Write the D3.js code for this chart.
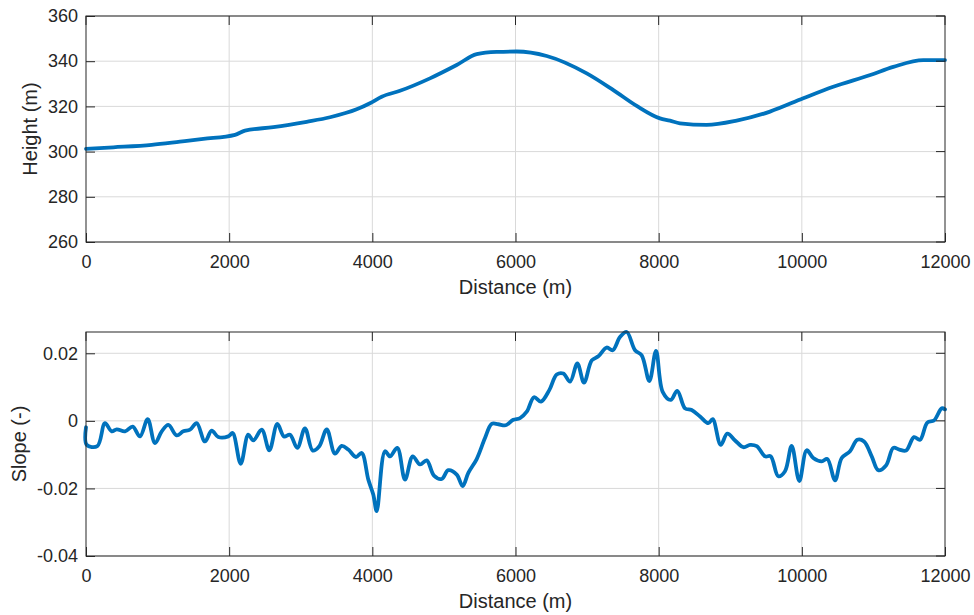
<!DOCTYPE html>
<html>
<head>
<meta charset="utf-8">
<script src="https://cdn.jsdelivr.net/npm/d3@7"></script>
<style>
  html, body { margin: 0; padding: 0; background: #fff; }
  svg { display: block; }
  text { font-family: "Liberation Sans", Arial, Helvetica, sans-serif; fill: #262626; }
</style>
</head>
<body>
<svg id="chart" width="974" height="615"></svg>
<script>
// ---- Data ----
const heightDist = [0, 382, 918, 1313, 1639, 2082, 2221, 2617, 3083, 3409, 3781, 3967, 4131, 4386, 4805, 5178, 5458, 5737, 6017, 6436, 6995, 7367, 7693, 8018, 8158, 8297, 8670, 9089, 9555, 10020, 10439, 10956, 11278, 11697, 12000];
const heightVals = [301.2, 301.9, 303.0, 304.4, 305.6, 307.4, 309.3, 310.8, 313.2, 315.2, 318.7, 321.4, 324.3, 326.9, 332.4, 338.3, 343.1, 344.1, 344.3, 342.3, 334.6, 327.2, 320.2, 314.7, 313.7, 312.5, 311.8, 313.7, 317.7, 323.6, 328.7, 333.9, 337.5, 340.5, 340.5];

const slopeDist = [0, 10, 158, 265, 359, 429, 545, 652, 754, 862, 964, 1058, 1150, 1267, 1359, 1453, 1546, 1662, 1756, 1848, 1988, 2049, 2161, 2267, 2337, 2455, 2561, 2673, 2766, 2850, 2952, 3059, 3167, 3259, 3363, 3478, 3572, 3664, 3772, 3851, 3944, 4013, 4061, 4177, 4247, 4349, 4456, 4564, 4666, 4759, 4861, 4969, 5061, 5179, 5262, 5341, 5458, 5574, 5668, 5760, 5863, 5969, 6063, 6157, 6259, 6356, 6472, 6576, 6668, 6762, 6864, 6957, 7065, 7157, 7274, 7358, 7460, 7554, 7670, 7763, 7870, 7963, 8056, 8168, 8260, 8368, 8461, 8578, 8694, 8755, 8867, 8959, 9067, 9183, 9276, 9370, 9486, 9565, 9671, 9765, 9858, 9965, 10068, 10160, 10278, 10356, 10464, 10557, 10673, 10775, 10869, 10976, 11068, 11176, 11278, 11362, 11455, 11567, 11651, 11753, 11846, 11954, 12000];
const slopeVals = [-0.0019, -0.0071, -0.0075, -0.0007, -0.0031, -0.0025, -0.0031, -0.0017, -0.0046, 0.0005, -0.0066, -0.0031, -0.0012, -0.0043, -0.0031, -0.0026, -0.0007, -0.0061, -0.0029, -0.0048, -0.0046, -0.0036, -0.0127, -0.0041, -0.0058, -0.0026, -0.0087, -0.0009, -0.0046, -0.0041, -0.0080, -0.0022, -0.0088, -0.0075, -0.0025, -0.0097, -0.0074, -0.0085, -0.0107, -0.0095, -0.0174, -0.0218, -0.0267, -0.0090, -0.0105, -0.0080, -0.0174, -0.0105, -0.0129, -0.0117, -0.0162, -0.0172, -0.0146, -0.0159, -0.0193, -0.0154, -0.0113, -0.0051, -0.0009, -0.0010, -0.0013, 0.0003, 0.0008, 0.0027, 0.0070, 0.0057, 0.0091, 0.0137, 0.0140, 0.0116, 0.0170, 0.0113, 0.0179, 0.0191, 0.0217, 0.0209, 0.0248, 0.0263, 0.0209, 0.0194, 0.0118, 0.0207, 0.0086, 0.0062, 0.0089, 0.0037, 0.0032, 0.0013, -0.0007, 0.0005, -0.0071, -0.0038, -0.0058, -0.0078, -0.0071, -0.0075, -0.0105, -0.0105, -0.0164, -0.0149, -0.0074, -0.0178, -0.0087, -0.0110, -0.0120, -0.0113, -0.0176, -0.0110, -0.0090, -0.0056, -0.0061, -0.0105, -0.0146, -0.0132, -0.0080, -0.0085, -0.0088, -0.0048, -0.0056, -0.0005, 0.0001, 0.0037, 0.0034];

const xTicks = [0, 2000, 4000, 6000, 8000, 10000, 12000];
const heightTicks = [260, 280, 300, 320, 340, 360];
const slopeTicks = [-0.04, -0.02, 0, 0.02];
const slopeTickLabels = ["-0.04", "-0.02", "0", "0.02"];

// ---- Drawing ----
const svg = d3.select("#chart");
const left = 86, right = 945;
const axisColor = "#262626", gridColor = "#d9d9d9", lineColor = "#0072BD";
const tickLen = 9;
const tickFont = 18, labelFont = 20;

function panel(opts) {
  const { top, bottom, yDomain, yTicks, yFormat, xs, ys, yLabel, yLabelX, curve, lw } = opts;
  const x = d3.scaleLinear().domain([0, 12000]).range([left, right]);
  const y = d3.scaleLinear().domain(yDomain).range([bottom, top]);
  const g = svg.append("g");

  // grid
  g.selectAll(".vg").data(xTicks.slice(1, -1)).join("line")
    .attr("x1", d => x(d)).attr("x2", d => x(d)).attr("y1", top).attr("y2", bottom)
    .attr("stroke", gridColor).attr("stroke-width", 1);
  g.selectAll(".hg").data(yTicks).join("line")
    .attr("x1", left).attr("x2", right).attr("y1", d => y(d)).attr("y2", d => y(d))
    .attr("stroke", gridColor).attr("stroke-width", 1);

  // line
  const pts = xs.map((d, i) => [d, ys[i]]);
  g.append("path").datum(pts)
    .attr("fill", "none").attr("stroke", lineColor).attr("stroke-width", lw)
    .attr("stroke-linejoin", "round").attr("stroke-linecap", "round")
    .attr("d", d3.line().x(d => x(d[0])).y(d => y(d[1])).curve(curve));

  // axes via d3 (bottom/left), inner ticks
  const xAxis = d3.axisBottom(x).tickValues(xTicks).tickFormat(d3.format("d")).tickSizeInner(-tickLen).tickSizeOuter(0).tickPadding(13);
  const gx = g.append("g").attr("transform", `translate(0,${bottom})`).call(xAxis);
  const yAxis = d3.axisLeft(y).tickValues(yTicks).tickFormat(yFormat).tickSizeInner(-tickLen).tickSizeOuter(0).tickPadding(8);
  const gy = g.append("g").attr("transform", `translate(${left},0)`).call(yAxis);
  [gx, gy].forEach(a => {
    a.select(".domain").remove();
    a.selectAll("line").attr("stroke", axisColor);
    a.selectAll("text").attr("font-size", tickFont).attr("fill", axisColor)
      .style("font-family", '"Liberation Sans", Arial, sans-serif');
  });
  gx.selectAll("text").attr("dy", "0.71em");

  // top / right ticks
  g.selectAll(".tt").data(xTicks).join("line")
    .attr("x1", d => x(d)).attr("x2", d => x(d)).attr("y1", top).attr("y2", top + tickLen)
    .attr("stroke", axisColor);
  g.selectAll(".rt").data(yTicks).join("line")
    .attr("x1", right - tickLen).attr("x2", right).attr("y1", d => y(d)).attr("y2", d => y(d))
    .attr("stroke", axisColor);

  // box
  g.append("rect").attr("x", left).attr("y", top).attr("width", right - left).attr("height", bottom - top)
    .attr("fill", "none").attr("stroke", axisColor).attr("stroke-width", 1);

  // labels
  g.append("text").attr("x", (left + right) / 2).attr("y", bottom + 52)
    .attr("text-anchor", "middle").attr("font-size", labelFont).text("Distance (m)");
  g.append("text").attr("transform", `translate(${yLabelX},${(top + bottom) / 2}) rotate(-90)`)
    .attr("text-anchor", "middle").attr("font-size", labelFont).text(yLabel);
}

panel({
  top: 16, bottom: 242, yDomain: [260, 360], yTicks: heightTicks, yFormat: d3.format("d"),
  xs: heightDist, ys: heightVals, yLabel: "Height (m)", yLabelX: 37,
  curve: d3.curveMonotoneX, lw: 3.8
});

const fmtSlope = d => slopeTickLabels[slopeTicks.indexOf(d)];
panel({
  top: 332, bottom: 556, yDomain: [-0.04, 0.0263], yTicks: slopeTicks, yFormat: fmtSlope,
  xs: slopeDist, ys: slopeVals, yLabel: "Slope (-)", yLabelX: 26,
  curve: d3.curveCatmullRom.alpha(0.5), lw: 3.8
});
</script>
</body>
</html>
